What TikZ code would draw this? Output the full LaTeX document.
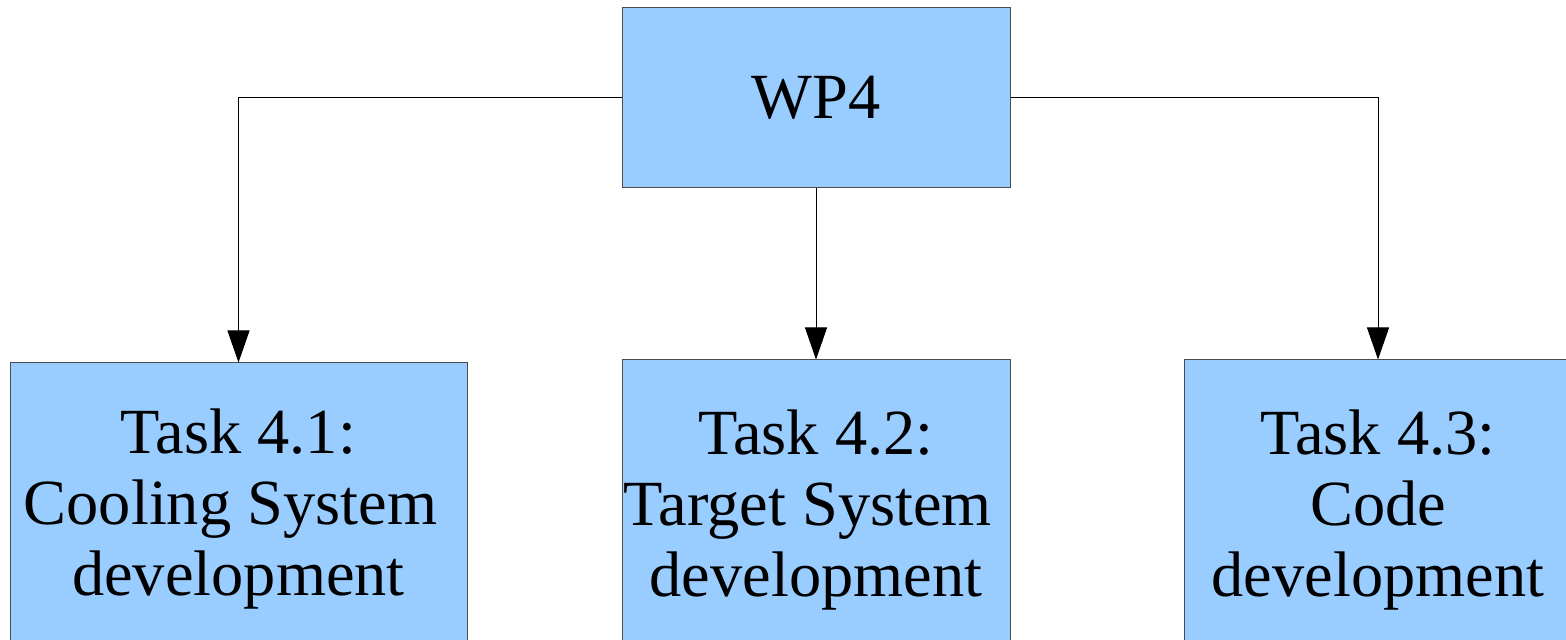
\documentclass[tikz,border=0pt]{standalone}
\usepackage{fontspec}
\setmainfont{Liberation Serif}
\usetikzlibrary{arrows.meta}
\definecolor{wpblue}{HTML}{99CCFF}

\begin{document}
\begin{tikzpicture}[x=0.5pt, y=-0.5pt,
  box/.style={fill=wpblue, draw=black!70, line width=0.5pt, shape=rectangle, inner sep=0pt, align=center, font=\fontsize{32.2}{35.5}\selectfont},
  task/.style={box, minimum width=194pt, minimum height=150pt},
  link/.style={line width=0.5pt, -{Triangle[width=11pt, length=16pt]}}]
\useasboundingbox (0,0) rectangle (1566,640);
\node[box, minimum width=194pt, minimum height=90pt] (wp4) at (816,98) {WP4};
\node[task, minimum width=228.5pt, minimum height=146pt] (task41) at (238.5,509) {Task 4.1:\\Cooling System\kern0.25em\\development};
\node[task] (task42) at (816,510) {Task 4.2:\\Target System\kern0.25em\\development};
\node[task] (task43) at (1378,510) {Task 4.3:\\Code\\development};
\draw[link] (wp4.west) -| (task41.north);
\draw[link] (wp4.south) -- (task42.north);
\draw[link] (wp4.east) -| (task43.north);
\end{tikzpicture}
\end{document}
